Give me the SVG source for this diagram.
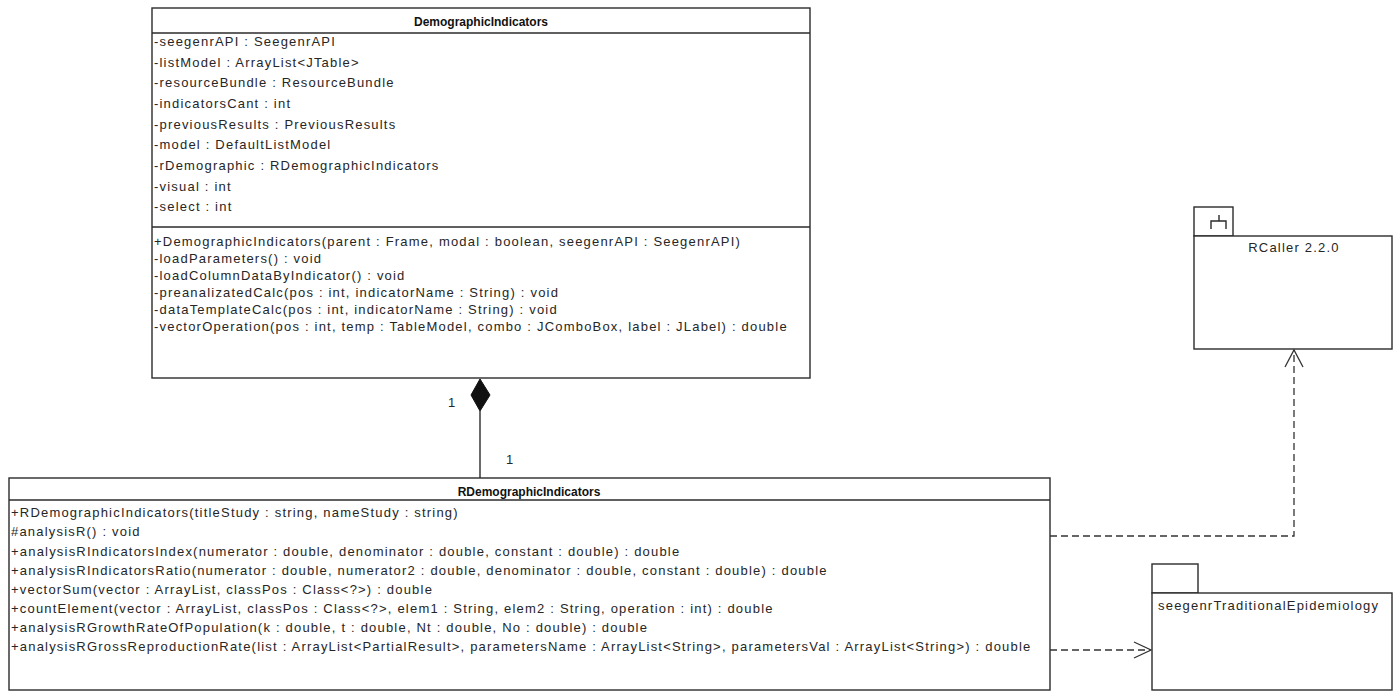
<svg xmlns="http://www.w3.org/2000/svg" width="1395" height="692" viewBox="0 0 1395 692">
<style>
.box{fill:#fff;stroke:#2b2b2b;stroke-width:1.4}
.ln{stroke:#2b2b2b;stroke-width:1.4;fill:none}
.dash{stroke:#333;stroke-width:1.3;fill:none;stroke-dasharray:7,4}
.arr{stroke:#333;stroke-width:1.3;fill:none}
text{font-family:"Liberation Sans",Arial,sans-serif;font-size:13px;letter-spacing:1.2px;fill:#262626}
.t{font-weight:bold;font-size:12px;letter-spacing:0;text-anchor:middle;fill:#111}
.c{text-anchor:middle}
</style>
<rect width="1395" height="692" fill="#fff"/>
<g id="DemographicIndicators">
<rect class="box" x="152" y="8" width="658" height="370"/>
<line class="ln" x1="152" y1="33" x2="810" y2="33"/>
<line class="ln" x1="152" y1="227" x2="810" y2="227"/>
<text class="t" x="481" y="26">DemographicIndicators</text>
<text x="154" y="46">-seegenrAPI : SeegenrAPI</text>
<text x="154" y="67">-listModel : ArrayList&lt;JTable&gt;</text>
<text x="154" y="87">-resourceBundle : ResourceBundle</text>
<text x="154" y="108">-indicatorsCant : int</text>
<text x="154" y="129">-previousResults : PreviousResults</text>
<text x="154" y="149">-model : DefaultListModel</text>
<text x="154" y="170">-rDemographic : RDemographicIndicators</text>
<text x="154" y="191">-visual : int</text>
<text x="154" y="211">-select : int</text>
<text x="154" y="246">+DemographicIndicators(parent : Frame, modal : boolean, seegenrAPI : SeegenrAPI)</text>
<text x="154" y="263">-loadParameters() : void</text>
<text x="154" y="280">-loadColumnDataByIndicator() : void</text>
<text x="154" y="297">-preanalizatedCalc(pos : int, indicatorName : String) : void</text>
<text x="154" y="314">-dataTemplateCalc(pos : int, indicatorName : String) : void</text>
<text x="154" y="331">-vectorOperation(pos : int, temp : TableModel, combo : JComboBox, label : JLabel) : double</text>
</g>
<g id="RDemographicIndicators">
<rect class="box" x="9" y="478" width="1041" height="212"/>
<line class="ln" x1="9" y1="500" x2="1050" y2="500"/>
<text class="t" x="529" y="496">RDemographicIndicators</text>
<text x="11" y="517">+RDemographicIndicators(titleStudy : string, nameStudy : string)</text>
<text x="11" y="536">#analysisR() : void</text>
<text x="11" y="556">+analysisRIndicatorsIndex(numerator : double, denominator : double, constant : double) : double</text>
<text x="11" y="575">+analysisRIndicatorsRatio(numerator : double, numerator2 : double, denominator : double, constant : double) : double</text>
<text x="11" y="594">+vectorSum(vector : ArrayList, classPos : Class&lt;?&gt;) : double</text>
<text x="11" y="613">+countElement(vector : ArrayList, classPos : Class&lt;?&gt;, elem1 : String, elem2 : String, operation : int) : double</text>
<text x="11" y="632">+analysisRGrowthRateOfPopulation(k : double, t : double, Nt : double, No : double) : double</text>
<text x="11" y="651">+analysisRGrossReproductionRate(list : ArrayList&lt;PartialResult&gt;, parametersName : ArrayList&lt;String&gt;, parametersVal : ArrayList&lt;String&gt;) : double</text>
</g>
<g id="RCaller">
<rect class="box" x="1194" y="207" width="39" height="29"/>
<rect class="box" x="1194" y="236" width="198" height="113"/>
<path class="ln" d="M1219 215V221M1211 229V221H1226V229"/>
<text class="c" x="1294" y="252">RCaller 2.2.0</text>
</g>
<g id="seegenrTraditionalEpidemiology">
<rect class="box" x="1152" y="564" width="46" height="29"/>
<rect class="box" x="1152" y="593" width="240" height="97"/>
<text x="1158" y="610">seegenrTraditionalEpidemiology</text>
</g>
<g id="connectors">
<line class="ln" x1="480" y1="411" x2="480" y2="478"/>
<path d="M480 379L471 395L480 411L490 395Z" fill="#111" stroke="#111" stroke-width="1"/>
<text x="448" y="407">1</text>
<text x="506" y="464">1</text>
<path class="dash" d="M1050 536H1294V350"/>
<path class="arr" d="M1285 367L1294 350L1303 367"/>
<path class="dash" d="M1050 650H1150"/>
<path class="arr" d="M1134 642L1151 650L1134 658"/>
</g>
</svg>
